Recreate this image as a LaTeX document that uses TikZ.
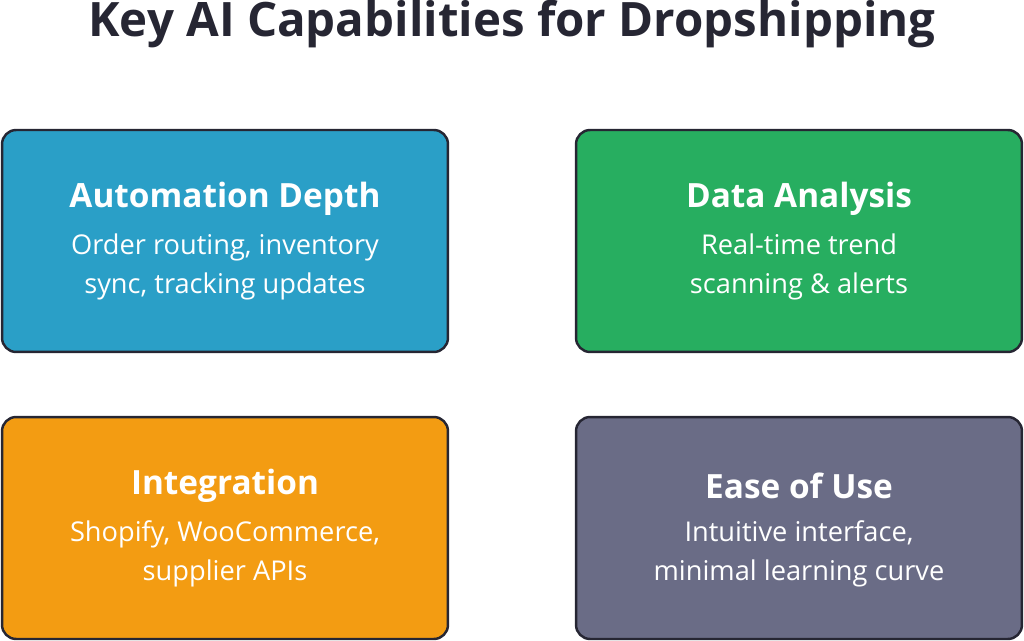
\documentclass[tikz,border=0pt]{standalone}
\usepackage{fontspec}
\setmainfont{Open Sans}
\usetikzlibrary{positioning}
\definecolor{autoblue}{HTML}{2A9FC7}
\definecolor{datagreen}{HTML}{27AE60}
\definecolor{integorange}{HTML}{F39C12}
\definecolor{easegray}{HTML}{6A6C86}
\definecolor{edgedark}{HTML}{262633}
\tikzset{
 card/.style={draw=edgedark,line width=1.4pt,rounded corners=8pt,minimum width=8.92cm,minimum height=4.44cm},
 head/.style={text=white,font=\fontsize{19}{22}\selectfont\bfseries},
 body/.style={text=white,font=\fontsize{15.5}{22}\selectfont,align=center}
}
\begin{document}
\begin{tikzpicture}[x=0.02cm,y=-0.02cm]
 \useasboundingbox (0,0) rectangle (1024,641);
 \node [font=\fontsize{27}{30}\selectfont\bfseries,text=edgedark] (title) at (512,24) {Key AI Capabilities for Dropshipping};

 \node [card,fill=autoblue] (auto) at (225,241) {};
 \node [card,fill=datagreen] (data) at (799,241) {};
 \node [card,fill=integorange] (integ) at (225,528) {};
 \node [card,fill=easegray] (ease) at (799,528) {};

 \node [head] (autohead) at (225,199) {Automation Depth};
 \node [body] (autobody) at (225,267) {Order routing, inventory\\sync, tracking updates};
 \node [head] (datahead) at (799,199) {Data Analysis};
 \node [body] (databody) at (799,267) {Real-time trend\\scanning \& alerts};
 \node [head] (integhead) at (225,486) {Integration};
 \node [body] (integbody) at (225,554) {Shopify, WooCommerce,\\supplier APIs};
 \node [head] (easehead) at (799,486) {Ease of Use};
 \node [body] (easebody) at (799,554) {Intuitive interface,\\minimal learning curve};
\end{tikzpicture}
\end{document}
